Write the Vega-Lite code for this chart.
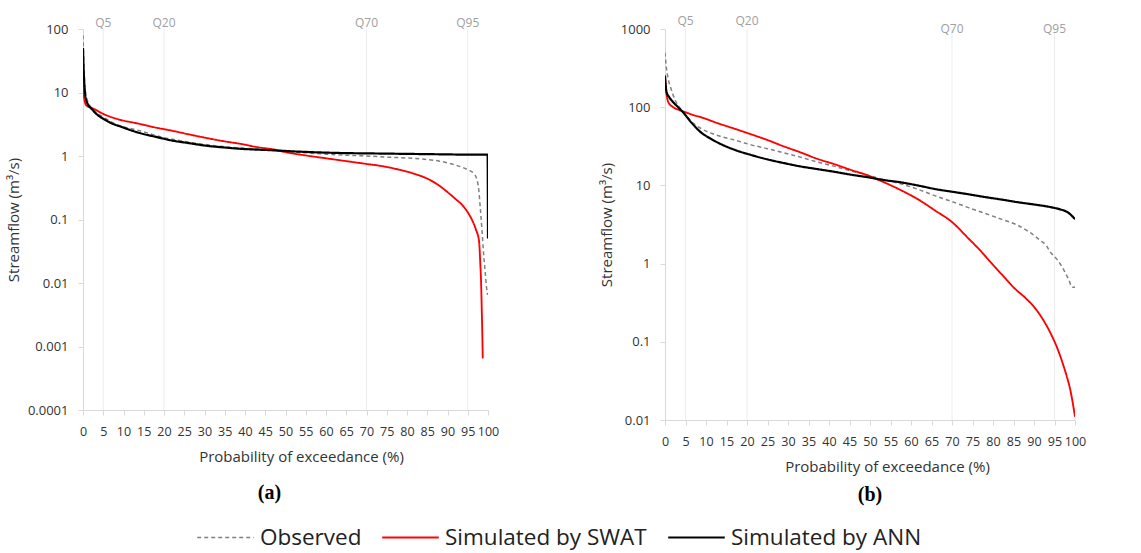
{
  "$schema": "https://vega.github.io/schema/vega-lite/v6.json",
  "padding": {"left": 6, "top": 15, "right": 10, "bottom": 4},
  "background": "white",
  "config": {
    "view": {"stroke": null},
    "font": "Open Sans",
    "axis": {"domainColor": "#d9d9d9", "tickColor": "#d9d9d9", "grid": false, "labelColor": "#333333", "titleColor": "#333333", "labelFont": "Open Sans", "titleFont": "Open Sans", "labelFontSize": 13, "titleFontSize": 15, "titleFontWeight": "normal", "tickSize": 5, "labelPadding": 10, "labelOverlap": false},
    "legend": {"labelLimit": 400}
  },
  "datasets": {
    "q": [{"p": 5, "label": "Q5"}, {"p": 20, "label": "Q20"}, {"p": 70, "label": "Q70"}, {"p": 95, "label": "Q95"}],
    "a": [
      {"p":0,"q":80,"s":"Observed"},{"p":0.3,"q":20,"s":"Observed"},{"p":0.6,"q":10,"s":"Observed"},{"p":1,"q":7.8,"s":"Observed"},{"p":2.5,"q":5.4,"s":"Observed"},{"p":5,"q":4.1,"s":"Observed"},{"p":8,"q":3.2,"s":"Observed"},{"p":14,"q":2.5,"s":"Observed"},{"p":20,"q":1.95,"s":"Observed"},{"p":25,"q":1.7,"s":"Observed"},{"p":30,"q":1.52,"s":"Observed"},{"p":35,"q":1.4,"s":"Observed"},{"p":40,"q":1.32,"s":"Observed"},{"p":45,"q":1.25,"s":"Observed"},{"p":50,"q":1.18,"s":"Observed"},{"p":55,"q":1.12,"s":"Observed"},{"p":60,"q":1.07,"s":"Observed"},{"p":65,"q":1.03,"s":"Observed"},{"p":70,"q":1.0,"s":"Observed"},{"p":75,"q":0.96,"s":"Observed"},{"p":80,"q":0.93,"s":"Observed"},{"p":85,"q":0.88,"s":"Observed"},{"p":88,"q":0.83,"s":"Observed"},{"p":90,"q":0.78,"s":"Observed"},{"p":92,"q":0.72,"s":"Observed"},{"p":94,"q":0.65,"s":"Observed"},{"p":95.5,"q":0.59,"s":"Observed"},{"p":96.5,"q":0.53,"s":"Observed"},{"p":97.2,"q":0.44,"s":"Observed"},{"p":97.7,"q":0.3,"s":"Observed"},{"p":98.1,"q":0.15,"s":"Observed"},{"p":98.5,"q":0.07,"s":"Observed"},{"p":98.9,"q":0.03,"s":"Observed"},{"p":99.3,"q":0.015,"s":"Observed"},{"p":99.6,"q":0.009,"s":"Observed"},{"p":99.9,"q":0.0065,"s":"Observed"},
      {"p":0,"q":15,"s":"Simulated by SWAT"},{"p":0.3,"q":8,"s":"Simulated by SWAT"},{"p":0.8,"q":6.3,"s":"Simulated by SWAT"},{"p":2.5,"q":5.6,"s":"Simulated by SWAT"},{"p":5,"q":4.6,"s":"Simulated by SWAT"},{"p":8,"q":3.9,"s":"Simulated by SWAT"},{"p":14,"q":3.2,"s":"Simulated by SWAT"},{"p":18,"q":2.8,"s":"Simulated by SWAT"},{"p":22,"q":2.5,"s":"Simulated by SWAT"},{"p":26,"q":2.2,"s":"Simulated by SWAT"},{"p":30,"q":1.95,"s":"Simulated by SWAT"},{"p":35,"q":1.7,"s":"Simulated by SWAT"},{"p":39,"q":1.55,"s":"Simulated by SWAT"},{"p":43,"q":1.38,"s":"Simulated by SWAT"},{"p":47,"q":1.27,"s":"Simulated by SWAT"},{"p":50,"q":1.15,"s":"Simulated by SWAT"},{"p":55,"q":1.02,"s":"Simulated by SWAT"},{"p":60,"q":0.92,"s":"Simulated by SWAT"},{"p":65,"q":0.83,"s":"Simulated by SWAT"},{"p":70,"q":0.75,"s":"Simulated by SWAT"},{"p":74,"q":0.69,"s":"Simulated by SWAT"},{"p":78,"q":0.61,"s":"Simulated by SWAT"},{"p":82,"q":0.52,"s":"Simulated by SWAT"},{"p":85,"q":0.44,"s":"Simulated by SWAT"},{"p":88,"q":0.34,"s":"Simulated by SWAT"},{"p":90,"q":0.27,"s":"Simulated by SWAT"},{"p":92,"q":0.21,"s":"Simulated by SWAT"},{"p":93.6,"q":0.17,"s":"Simulated by SWAT"},{"p":95,"q":0.13,"s":"Simulated by SWAT"},{"p":96,"q":0.1,"s":"Simulated by SWAT"},{"p":97,"q":0.07,"s":"Simulated by SWAT"},{"p":97.8,"q":0.045,"s":"Simulated by SWAT"},{"p":98.1,"q":0.02,"s":"Simulated by SWAT"},{"p":98.3,"q":0.01,"s":"Simulated by SWAT"},{"p":98.45,"q":0.004,"s":"Simulated by SWAT"},{"p":98.6,"q":0.0015,"s":"Simulated by SWAT"},{"p":98.7,"q":0.00065,"s":"Simulated by SWAT"},
      {"p":0,"q":50,"s":"Simulated by ANN"},{"p":0.2,"q":20,"s":"Simulated by ANN"},{"p":0.5,"q":10,"s":"Simulated by ANN"},{"p":0.8,"q":7.5,"s":"Simulated by ANN"},{"p":2.5,"q":5.2,"s":"Simulated by ANN"},{"p":5.8,"q":3.6,"s":"Simulated by ANN"},{"p":10,"q":2.8,"s":"Simulated by ANN"},{"p":14,"q":2.3,"s":"Simulated by ANN"},{"p":18,"q":2.0,"s":"Simulated by ANN"},{"p":22,"q":1.75,"s":"Simulated by ANN"},{"p":26,"q":1.6,"s":"Simulated by ANN"},{"p":30.5,"q":1.45,"s":"Simulated by ANN"},{"p":35,"q":1.36,"s":"Simulated by ANN"},{"p":38.7,"q":1.3,"s":"Simulated by ANN"},{"p":43,"q":1.26,"s":"Simulated by ANN"},{"p":47,"q":1.23,"s":"Simulated by ANN"},{"p":50,"q":1.2,"s":"Simulated by ANN"},{"p":55,"q":1.16,"s":"Simulated by ANN"},{"p":60,"q":1.13,"s":"Simulated by ANN"},{"p":65,"q":1.11,"s":"Simulated by ANN"},{"p":70,"q":1.1,"s":"Simulated by ANN"},{"p":75,"q":1.09,"s":"Simulated by ANN"},{"p":80,"q":1.08,"s":"Simulated by ANN"},{"p":85,"q":1.07,"s":"Simulated by ANN"},{"p":90,"q":1.06,"s":"Simulated by ANN"},{"p":95,"q":1.05,"s":"Simulated by ANN"},{"p":99.9,"q":1.05,"s":"Simulated by ANN"},{"p":100,"q":0.05,"s":"Simulated by ANN"}
    ],
    "b": [
      {"p":0,"q":500,"s":"Observed"},{"p":0.3,"q":330,"s":"Observed"},{"p":0.8,"q":228,"s":"Observed"},{"p":1.5,"q":170,"s":"Observed"},{"p":2.4,"q":126,"s":"Observed"},{"p":3.5,"q":100,"s":"Observed"},{"p":4.8,"q":82,"s":"Observed"},{"p":6.5,"q":65,"s":"Observed"},{"p":8.9,"q":53,"s":"Observed"},{"p":12,"q":45,"s":"Observed"},{"p":17,"q":38,"s":"Observed"},{"p":21,"q":33,"s":"Observed"},{"p":25,"q":29.5,"s":"Observed"},{"p":29,"q":26,"s":"Observed"},{"p":33,"q":23,"s":"Observed"},{"p":37,"q":20,"s":"Observed"},{"p":41.4,"q":17.5,"s":"Observed"},{"p":45,"q":15.5,"s":"Observed"},{"p":49.5,"q":13.5,"s":"Observed"},{"p":53,"q":12,"s":"Observed"},{"p":57.7,"q":10.4,"s":"Observed"},{"p":62,"q":8.8,"s":"Observed"},{"p":65.8,"q":7.4,"s":"Observed"},{"p":70,"q":6.2,"s":"Observed"},{"p":74,"q":5.2,"s":"Observed"},{"p":78,"q":4.4,"s":"Observed"},{"p":82,"q":3.7,"s":"Observed"},{"p":86,"q":3.1,"s":"Observed"},{"p":89,"q":2.5,"s":"Observed"},{"p":91.7,"q":1.95,"s":"Observed"},{"p":93,"q":1.7,"s":"Observed"},{"p":94,"q":1.4,"s":"Observed"},{"p":95.5,"q":1.15,"s":"Observed"},{"p":96.5,"q":0.97,"s":"Observed"},{"p":97.6,"q":0.77,"s":"Observed"},{"p":98.5,"q":0.62,"s":"Observed"},{"p":99.3,"q":0.5,"s":"Observed"},{"p":100,"q":0.5,"s":"Observed"},
      {"p":0,"q":257,"s":"Simulated by SWAT"},{"p":0.3,"q":160,"s":"Simulated by SWAT"},{"p":0.8,"q":116,"s":"Simulated by SWAT"},{"p":2,"q":100,"s":"Simulated by SWAT"},{"p":3.5,"q":92,"s":"Simulated by SWAT"},{"p":4.8,"q":87,"s":"Simulated by SWAT"},{"p":7,"q":79,"s":"Simulated by SWAT"},{"p":8.9,"q":74,"s":"Simulated by SWAT"},{"p":13,"q":62,"s":"Simulated by SWAT"},{"p":17,"q":53,"s":"Simulated by SWAT"},{"p":21,"q":45,"s":"Simulated by SWAT"},{"p":25,"q":38,"s":"Simulated by SWAT"},{"p":29,"q":31.5,"s":"Simulated by SWAT"},{"p":33,"q":26.5,"s":"Simulated by SWAT"},{"p":37,"q":22,"s":"Simulated by SWAT"},{"p":41.4,"q":18.6,"s":"Simulated by SWAT"},{"p":45,"q":16,"s":"Simulated by SWAT"},{"p":49.5,"q":13.4,"s":"Simulated by SWAT"},{"p":53,"q":11.2,"s":"Simulated by SWAT"},{"p":57.7,"q":8.6,"s":"Simulated by SWAT"},{"p":62,"q":6.5,"s":"Simulated by SWAT"},{"p":65.8,"q":4.8,"s":"Simulated by SWAT"},{"p":70,"q":3.4,"s":"Simulated by SWAT"},{"p":74,"q":2.1,"s":"Simulated by SWAT"},{"p":77,"q":1.45,"s":"Simulated by SWAT"},{"p":79,"q":1.1,"s":"Simulated by SWAT"},{"p":82,"q":0.74,"s":"Simulated by SWAT"},{"p":85.3,"q":0.48,"s":"Simulated by SWAT"},{"p":88,"q":0.36,"s":"Simulated by SWAT"},{"p":90,"q":0.28,"s":"Simulated by SWAT"},{"p":92,"q":0.2,"s":"Simulated by SWAT"},{"p":94,"q":0.13,"s":"Simulated by SWAT"},{"p":95.8,"q":0.08,"s":"Simulated by SWAT"},{"p":97,"q":0.053,"s":"Simulated by SWAT"},{"p":98,"q":0.036,"s":"Simulated by SWAT"},{"p":98.8,"q":0.025,"s":"Simulated by SWAT"},{"p":99.5,"q":0.016,"s":"Simulated by SWAT"},{"p":100,"q":0.011,"s":"Simulated by SWAT"},
      {"p":0,"q":250,"s":"Simulated by ANN"},{"p":0.2,"q":180,"s":"Simulated by ANN"},{"p":0.4,"q":155,"s":"Simulated by ANN"},{"p":1,"q":135,"s":"Simulated by ANN"},{"p":2,"q":116,"s":"Simulated by ANN"},{"p":3.2,"q":100,"s":"Simulated by ANN"},{"p":4.5,"q":85,"s":"Simulated by ANN"},{"p":6.5,"q":63,"s":"Simulated by ANN"},{"p":8.9,"q":47,"s":"Simulated by ANN"},{"p":11,"q":40,"s":"Simulated by ANN"},{"p":13,"q":35,"s":"Simulated by ANN"},{"p":17,"q":28.5,"s":"Simulated by ANN"},{"p":21,"q":24.5,"s":"Simulated by ANN"},{"p":25,"q":21.5,"s":"Simulated by ANN"},{"p":29,"q":19.3,"s":"Simulated by ANN"},{"p":33,"q":17.5,"s":"Simulated by ANN"},{"p":37,"q":16.2,"s":"Simulated by ANN"},{"p":41.4,"q":14.9,"s":"Simulated by ANN"},{"p":45,"q":13.8,"s":"Simulated by ANN"},{"p":49.5,"q":12.7,"s":"Simulated by ANN"},{"p":53,"q":11.8,"s":"Simulated by ANN"},{"p":57.7,"q":10.9,"s":"Simulated by ANN"},{"p":62,"q":9.9,"s":"Simulated by ANN"},{"p":65.8,"q":9.0,"s":"Simulated by ANN"},{"p":70,"q":8.3,"s":"Simulated by ANN"},{"p":74,"q":7.7,"s":"Simulated by ANN"},{"p":78,"q":7.1,"s":"Simulated by ANN"},{"p":82,"q":6.6,"s":"Simulated by ANN"},{"p":86,"q":6.1,"s":"Simulated by ANN"},{"p":90,"q":5.7,"s":"Simulated by ANN"},{"p":93,"q":5.4,"s":"Simulated by ANN"},{"p":95,"q":5.15,"s":"Simulated by ANN"},{"p":96.6,"q":4.9,"s":"Simulated by ANN"},{"p":98,"q":4.6,"s":"Simulated by ANN"},{"p":99,"q":4.2,"s":"Simulated by ANN"},{"p":99.6,"q":3.9,"s":"Simulated by ANN"},{"p":100,"q":3.7,"s":"Simulated by ANN"}
    ]
  },
  "spacing": 100,
  "hconcat": [
    {
      "width": 405,
      "height": 381,
      "title": {"text": "(a)", "orient": "bottom", "font": "Liberation Serif", "fontSize": 20, "fontWeight": "bold", "color": "#000000", "offset": 18, "dx": -16},
      "encoding": {
        "x": {"field": "p", "type": "quantitative", "scale": {"domain": [0, 100], "nice": false}, "axis": {"values": [0,5,10,15,20,25,30,35,40,45,50,55,60,65,70,75,80,85,90,95,100], "labelFlush": false, "labelOverlap": false, "labelFontSize": 12.5, "title": "Probability of exceedance (%)", "titleX": 218, "titlePadding": 12}}
      },
      "layer": [
        {"data": {"name": "q"}, "mark": {"type": "rule", "color": "#ececec", "strokeWidth": 1}},
        {"data": {"name": "q"}, "mark": {"type": "text", "color": "#a0a0a0", "fontSize": 12, "baseline": "bottom", "dy": 1, "font": "Open Sans"}, "encoding": {"y": {"datum": 100, "type": "quantitative"}, "text": {"field": "label"}}},
        {
          "data": {"name": "a"},
          "mark": {"type": "line", "clip": true, "interpolate": "monotone"},
          "encoding": {
            "y": {"field": "q", "type": "quantitative", "scale": {"type": "log", "domain": [0.0001, 100], "nice": false}, "axis": {"values": [0.0001, 0.001, 0.01, 0.1, 1, 10, 100], "format": "~g", "labelOverlap": false, "title": "Streamflow (m³/s)", "titlePadding": 6}},
            "color": {"field": "s", "type": "nominal", "scale": {"domain": ["Observed", "Simulated by SWAT", "Simulated by ANN"], "range": ["#808080", "#ff0000", "#000000"]}, "legend": {"orient": "none", "legendX": 113, "legendY": 479, "direction": "horizontal", "title": null, "labelFontSize": 22.5, "labelFont": "Open Sans", "labelColor": "#222222", "symbolType": "stroke", "symbolSize": 3200, "labelOffset": 5, "columnPadding": 16, "symbolStrokeWidth": 3, "labelLimit": 400}},
            "strokeDash": {"field": "s", "type": "nominal", "scale": {"domain": ["Observed", "Simulated by SWAT", "Simulated by ANN"], "range": [[4, 3], [1, 0], [1, 0]]}, "legend": {"orient": "none", "legendX": 113, "legendY": 479, "direction": "horizontal", "title": null, "labelFontSize": 22.5, "labelFont": "Open Sans", "labelColor": "#222222", "symbolType": "stroke", "symbolSize": 3200, "labelOffset": 5, "columnPadding": 16, "labelLimit": 400}},
            "strokeWidth": {"field": "s", "type": "nominal", "scale": {"domain": ["Observed", "Simulated by SWAT", "Simulated by ANN"], "range": [1.5, 2.2, 3]}, "legend": {"orient": "none", "legendX": 113, "legendY": 479, "direction": "horizontal", "title": null, "labelFontSize": 22.5, "labelFont": "Open Sans", "labelColor": "#222222", "symbolType": "stroke", "symbolSize": 3200, "labelOffset": 5, "columnPadding": 16, "labelLimit": 400}}
          }
        }
      ]
    },
    {
      "width": 410,
      "height": 391,
      "title": {"text": "(b)", "orient": "bottom", "font": "Liberation Serif", "fontSize": 20, "fontWeight": "bold", "color": "#000000", "offset": 10},
      "encoding": {
        "x": {"field": "p", "type": "quantitative", "scale": {"domain": [0, 100], "nice": false}, "axis": {"values": [0,5,10,15,20,25,30,35,40,45,50,55,60,65,70,75,80,85,90,95,100], "labelFlush": false, "labelOverlap": false, "labelFontSize": 12.5, "title": "Probability of exceedance (%)", "titleX": 222, "titlePadding": 12}}
      },
      "layer": [
        {"data": {"name": "q"}, "mark": {"type": "rule", "color": "#ececec", "strokeWidth": 1}},
        {"data": {"name": "q"}, "transform": [{"filter": "datum.p < 50"}], "mark": {"type": "text", "color": "#a0a0a0", "fontSize": 12, "baseline": "bottom", "dy": -1, "font": "Open Sans"}, "encoding": {"y": {"datum": 1000, "type": "quantitative"}, "text": {"field": "label"}}},
        {"data": {"name": "q"}, "transform": [{"filter": "datum.p > 50"}], "mark": {"type": "text", "color": "#a0a0a0", "fontSize": 12, "baseline": "middle", "dy": 0, "font": "Open Sans"}, "encoding": {"y": {"datum": 1000, "type": "quantitative"}, "text": {"field": "label"}}},
        {
          "data": {"name": "b"},
          "mark": {"type": "line", "clip": true, "interpolate": "monotone"},
          "encoding": {
            "y": {"field": "q", "type": "quantitative", "scale": {"type": "log", "domain": [0.01, 1000], "nice": false}, "axis": {"values": [0.01, 0.1, 1, 10, 100, 1000], "format": "~g", "labelOverlap": false, "title": "Streamflow (m³/s)", "titlePadding": 6}},
            "color": {"field": "s", "type": "nominal", "scale": {"domain": ["Observed", "Simulated by SWAT", "Simulated by ANN"], "range": ["#808080", "#ff0000", "#000000"]}, "legend": {"orient": "none", "legendX": 113, "legendY": 479, "direction": "horizontal", "title": null, "labelFontSize": 22.5, "labelFont": "Open Sans", "labelColor": "#222222", "symbolType": "stroke", "symbolSize": 3200, "labelOffset": 5, "columnPadding": 16, "symbolStrokeWidth": 3, "labelLimit": 400}},
            "strokeDash": {"field": "s", "type": "nominal", "scale": {"domain": ["Observed", "Simulated by SWAT", "Simulated by ANN"], "range": [[4, 3], [1, 0], [1, 0]]}, "legend": {"orient": "none", "legendX": 113, "legendY": 479, "direction": "horizontal", "title": null, "labelFontSize": 22.5, "labelFont": "Open Sans", "labelColor": "#222222", "symbolType": "stroke", "symbolSize": 3200, "labelOffset": 5, "columnPadding": 16, "labelLimit": 400}},
            "strokeWidth": {"field": "s", "type": "nominal", "scale": {"domain": ["Observed", "Simulated by SWAT", "Simulated by ANN"], "range": [1.5, 2.2, 3]}, "legend": {"orient": "none", "legendX": 113, "legendY": 479, "direction": "horizontal", "title": null, "labelFontSize": 22.5, "labelFont": "Open Sans", "labelColor": "#222222", "symbolType": "stroke", "symbolSize": 3200, "labelOffset": 5, "columnPadding": 16, "labelLimit": 400}}
          }
        }
      ]
    }
  ]
}
